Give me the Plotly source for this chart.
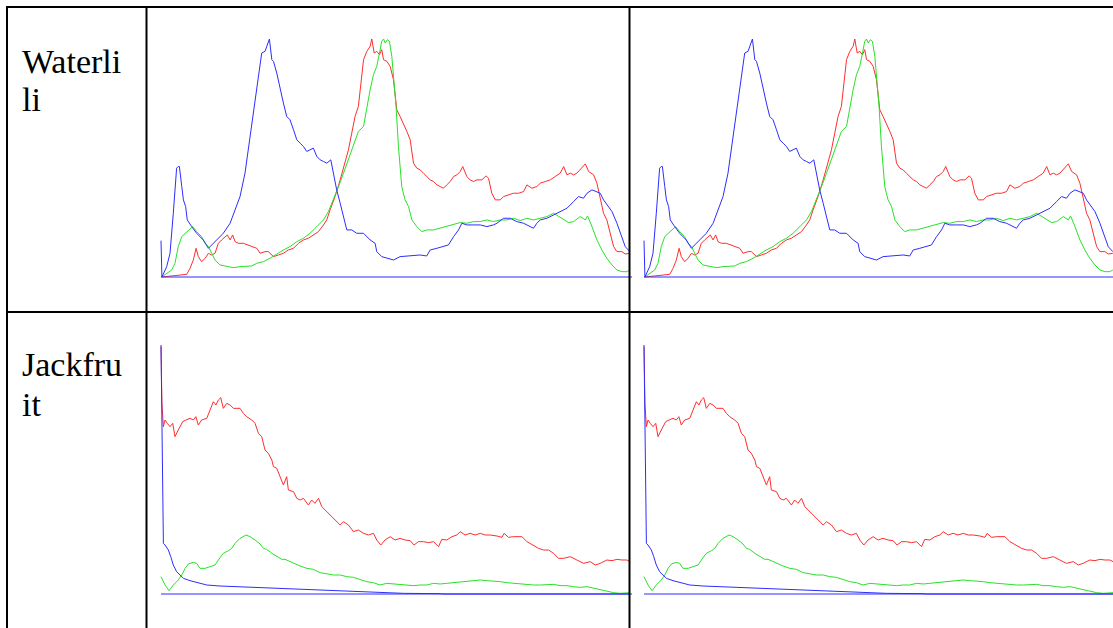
import plotly.graph_objects as go

W, H = 1113, 628

# ---------------- Data: colour histograms (intensity bin, relative count) ----------------
row_labels = [["Waterli", "li"], ["Jackfru", "it"]]

# Waterlily
wl_blue_bin = [0.0, 0.5, 3.1, 4.9, 6.7, 7.6, 8.5, 9.4, 10.0, 11.3, 12.2, 13.4, 14.3, 16.7, 19.4, 23.0, 25.8, 27.6,
               30.3, 33.9, 37.6, 40.3, 43.0, 45.7, 47.5, 49.4, 51.2, 53.0, 54.8, 56.6, 57.9, 59.0, 60.3, 61.2, 63.0,
               64.8, 66.6, 68.4, 70.2, 72.1, 73.9, 75.7, 77.5, 79.3, 81.1, 82.9, 84.8, 86.6, 88.4, 90.2, 92.4, 93.8,
               95.6, 97.5, 99.3, 101.1, 103.8, 106.5, 110.2, 113.8, 116.5, 117.4, 120.1, 122.9, 126.5, 130.1, 133.8,
               137.4, 141.0, 144.6, 146.5, 150.1, 153.7, 156.4, 159.2, 161.9, 163.7, 166.4, 170.1, 173.7, 177.3,
               180.9, 182.8, 186.4, 190.0, 193.6, 197.3, 200.9, 202.7, 204.5, 206.4, 210.0, 213.6, 217.2, 220.9,
               224.5, 227.2, 229.9, 231.8, 234.5, 237.2, 239.0, 240.8, 242.6, 245.4, 248.1, 249.9, 252.6, 255.1]
wl_blue_val = [109, 0, 31, 71, 191, 271, 326, 331, 331, 271, 231, 211, 171, 151, 131, 111, 86, 96,
               111, 131, 161, 201, 241, 311, 381, 471, 531, 601, 671, 676, 696, 713, 651, 646, 611,
               561, 521, 481, 471, 441, 411, 401, 391, 376, 381, 386, 361, 351, 346, 341, 351, 311,
               261, 221, 181, 141, 141, 131, 131, 111, 101, 76, 61, 56, 51, 61, 63,
               66, 66, 63, 81, 86, 91, 96, 121, 141, 161, 156, 156, 156, 151,
               156, 161, 176, 176, 166, 161, 151, 146, 161, 171, 176, 186, 196, 206,
               226, 241, 236, 251, 261, 256, 251, 231, 216, 196, 161, 131, 91, 76]

wl_red_bin = [0.4, 4.9, 10.3, 14.0, 15.8, 17.6, 19.1, 20.3, 22.1, 24.0, 25.8, 27.6, 29.4, 31.2, 33.0, 34.8, 36.1,
              37.6, 39.0, 40.3, 42.1, 44.8, 47.5, 49.4, 52.1, 53.9, 56.6, 58.4, 61.2, 63.9, 66.6, 69.3, 72.1, 74.8,
              77.5, 80.2, 82.9, 85.7, 88.4, 90.2, 92.0, 94.7, 97.5, 100.2, 102.0, 103.8, 105.6, 107.4, 108.7, 110.2,
              112.0, 113.8, 114.7, 116.0, 117.4, 118.9, 120.1, 121.1, 122.9, 124.7, 126.5, 128.3, 130.1, 131.9,
              133.8, 135.6, 137.4, 139.2, 141.0, 142.8, 144.6, 146.5, 148.3, 150.1, 151.9, 153.7, 155.5, 157.4,
              159.2, 161.0, 162.8, 164.2, 166.4, 168.2, 170.1, 171.9, 174.6, 176.9, 178.2, 180.0, 181.9, 184.6,
              186.4, 189.1, 191.8, 194.6, 197.3, 199.1, 201.8, 204.5, 206.4, 209.1, 211.8, 214.5, 217.2, 219.1,
              220.9, 222.7, 224.5, 226.3, 228.1, 230.9, 232.7, 235.4, 237.2, 239.0, 240.8, 242.6, 244.5, 246.3,
              248.1, 250.8, 252.6, 255.1]
wl_red_val = [0, 3, 6, 8, 26, 51, 86, 61, 46, 56, 71, 66, 71, 101, 111, 121, 126,
              111, 126, 106, 101, 101, 96, 91, 86, 71, 76, 76, 61, 66, 71, 81, 86, 101,
              111, 116, 126, 136, 156, 171, 201, 241, 291, 341, 381, 431, 481, 511, 571, 651,
              676, 691, 713, 671, 676, 666, 681, 651, 646, 631, 591, 501, 481, 461,
              436, 411, 341, 326, 321, 311, 301, 291, 286, 276, 271, 266, 276, 286,
              301, 306, 316, 331, 301, 291, 286, 291, 291, 303, 296, 251, 231, 231,
              241, 246, 251, 251, 256, 276, 266, 271, 281, 286, 291, 301, 311, 331,
              306, 311, 306, 311, 321, 339, 316, 306, 281, 231, 191, 171, 131, 91,
              76, 76, 69, 71]

wl_green_bin = [0.4, 3.1, 5.8, 7.6, 9.4, 11.3, 13.1, 15.8, 17.2, 19.4, 22.1, 24.0, 25.8, 27.6, 29.4, 32.1, 35.8,
                39.4, 43.0, 46.6, 49.4, 52.1, 55.7, 59.3, 63.0, 66.6, 70.2, 73.9, 77.5, 81.1, 84.8, 88.4, 91.1,
                93.8, 96.6, 99.3, 102.0, 104.7, 107.4, 110.2, 112.0, 113.8, 115.6, 117.4, 118.9, 120.1, 121.1,
                122.0, 123.2, 124.3, 125.6, 126.5, 127.9, 129.2, 131.0, 132.8, 134.7, 136.5, 139.2, 141.9, 144.6,
                148.3, 151.9, 155.5, 159.2, 162.8, 166.4, 170.1, 173.7, 177.3, 180.9, 184.6, 188.2, 191.8, 195.5,
                199.1, 202.7, 206.4, 210.0, 213.6, 216.3, 219.1, 221.8, 224.5, 228.1, 230.9, 232.1, 234.5, 237.2,
                239.9, 242.6, 245.4, 248.1, 250.8, 253.5, 255.1]
wl_green_val = [0, 11, 21, 41, 91, 121, 131, 146, 151, 136, 121, 101, 91, 71, 51, 36, 31,
                28, 31, 31, 33, 41, 46, 56, 69, 81, 91, 106, 116, 131, 151, 171, 196,
                231, 271, 311, 351, 391, 436, 451, 511, 561, 606, 631, 671, 706, 713,
                701, 711, 706, 661, 601, 511, 391, 271, 231, 211, 171, 151, 136, 141,
                141, 146, 151, 156, 163, 161, 166, 166, 171, 166, 171, 171, 176, 169,
                176, 171, 176, 181, 191, 181, 171, 163, 166, 181, 171, 183, 151, 111,
                81, 56, 36, 21, 16, 16, 21]

# Jackfruit
jf_blue_bin = [0.0, 0.5, 0.9, 1.3, 2.2, 4.0, 5.3, 6.7, 8.5, 10.3, 12.2, 15.8, 19.4, 24.9, 32.1, 41.2, 50.3, 61.2,
               68.4, 82.9, 90.2, 101.1, 110.2, 119.2, 131.9, 151.9, 153.7, 255.2]
jf_blue_val = [747, 522, 322, 152, 147, 132, 112, 87, 67, 57, 47, 40, 34, 27, 24, 22, 20, 17,
               15, 14, 11, 10, 7, 5, 2, 1, 0, 0]

jf_red_bin = [0.0, 0.5, 1.3, 2.2, 3.4, 4.9, 6.4, 7.6, 9.4, 11.8, 13.6, 15.8, 17.6, 19.0, 20.3, 22.1, 24.9, 26.7,
              28.5, 29.9, 31.2, 32.5, 33.9, 35.8, 37.6, 39.4, 41.2, 43.0, 44.8, 46.6, 49.4, 51.2, 53.0, 54.8, 56.6,
              58.4, 60.3, 61.2, 63.0, 64.8, 66.6, 68.4, 69.3, 72.1, 73.9, 75.7, 77.5, 80.2, 82.0, 83.8, 85.7, 87.5,
              90.2, 92.9, 95.6, 97.5, 99.3, 102.0, 104.7, 107.4, 110.2, 112.9, 115.6, 117.4, 119.6, 121.9, 124.7,
              127.4, 130.1, 132.8, 135.6, 137.7, 140.1, 142.8, 145.6, 148.3, 151.0, 152.8, 155.5, 158.3, 161.0,
              162.8, 165.5, 168.2, 170.9, 173.7, 176.4, 179.1, 182.8, 185.5, 186.7, 189.1, 191.8, 194.6, 196.4,
              199.1, 202.7, 205.4, 208.2, 210.9, 213.6, 216.3, 219.1, 222.7, 226.3, 229.9, 233.6, 236.3, 239.0,
              242.6, 245.4, 248.1, 250.8, 253.5, 255.2]
jf_red_val = [742, 572, 502, 522, 512, 502, 512, 472, 492, 517, 522, 527, 522, 532, 507, 522, 527, 552,
              577, 567, 582, 589, 557, 572, 567, 557, 557, 557, 542, 532, 522, 512, 482, 472, 432,
              422, 402, 382, 377, 352, 327, 352, 312, 307, 287, 282, 287, 267, 282, 272, 287, 262,
              247, 232, 217, 207, 217, 207, 187, 192, 182, 177, 182, 162, 147, 162, 172,
              162, 167, 162, 160, 147, 157, 157, 154, 157, 142, 164, 162, 172, 177,
              187, 177, 182, 177, 182, 177, 177, 174, 170, 182, 170, 172, 172, 172,
              157, 147, 137, 132, 132, 122, 107, 107, 112, 102, 92, 97, 87, 92,
              102, 100, 104, 102, 102, 97]

jf_green_bin = [0.0, 2.2, 4.4, 6.7, 9.4, 11.3, 13.1, 14.9, 17.6, 19.4, 21.2, 24.0, 26.7, 29.4, 31.2, 33.9, 36.7,
                38.5, 40.3, 43.0, 46.3, 48.5, 51.2, 53.9, 55.7, 57.5, 60.3, 63.0, 65.7, 67.5, 70.2, 73.0, 75.7,
                79.3, 82.9, 86.6, 90.2, 93.8, 97.5, 101.1, 104.7, 108.3, 112.0, 115.6, 119.2, 122.9, 126.5, 130.1,
                133.8, 137.4, 141.0, 144.6, 148.3, 151.9, 155.5, 159.2, 162.8, 166.4, 170.1, 173.7, 177.3, 180.9,
                184.6, 188.2, 191.8, 195.5, 199.1, 202.7, 206.4, 210.0, 213.6, 217.2, 220.9, 224.5, 228.1, 231.8,
                235.4, 239.0, 242.6, 246.3, 249.9, 253.5, 255.2]
jf_green_val = [52, 27, 10, 27, 42, 57, 77, 90, 95, 92, 77, 77, 82, 87, 102, 122, 130,
                137, 152, 167, 177, 172, 162, 150, 137, 134, 122, 112, 104, 104, 97, 92, 84,
                77, 74, 64, 60, 57, 57, 52, 50, 44, 37, 34, 27, 32, 30, 29,
                27, 25, 27, 27, 32, 30, 32, 34, 37, 40, 40, 42, 40, 39,
                37, 34, 32, 32, 30, 27, 27, 29, 29, 25, 25, 22, 20, 22,
                17, 12, 9, 4, 2, 2, 4]

RED = "rgb(255,45,45)"
GREEN = "rgb(40,225,40)"
BLUE = "rgb(45,45,255)"

rows = [
    dict(r=(wl_red_bin, wl_red_val), g=(wl_green_bin, wl_green_val), b=(wl_blue_bin, wl_blue_val),
         ymax=713, base_px=277),
    dict(r=(jf_red_bin, jf_red_val), g=(jf_green_bin, jf_green_val), b=(jf_blue_bin, jf_blue_val),
         ymax=747, base_px=594),
]

fig = go.Figure()
layout_axes = {}
shapes = []
PX_PER_BIN = 469 / 255.2
pad = 4  # extra pixels so peaks are not clipped

col_left = [161, 644]
ax_i = 0
for ri, row in enumerate(rows):
    top_px = 39 if ri == 0 else 345
    base_px = row["base_px"]
    ppu = (base_px - top_px) / row["ymax"]
    y0_px, y1_px = base_px + pad, top_px - pad
    yr = [-pad / ppu, row["ymax"] + pad / ppu]
    for ci, lx in enumerate(col_left):
        ax_i += 1
        sfx = "" if ax_i == 1 else str(ax_i)
        x0_px = lx - pad
        x1_px = min(lx + 469 + 2, W)
        xr = [-pad / PX_PER_BIN, (x1_px - lx) / PX_PER_BIN]
        layout_axes["xaxis" + sfx] = dict(domain=[x0_px / W, x1_px / W], range=xr, visible=False,
                                          anchor="y" + sfx, fixedrange=True)
        layout_axes["yaxis" + sfx] = dict(domain=[1 - y0_px / H, 1 - y1_px / H], range=yr, visible=False,
                                          anchor="x" + sfx, fixedrange=True)
        for key, col in (("r", RED), ("g", GREEN), ("b", BLUE)):
            xs, ys = row[key]
            fig.add_trace(go.Scatter(x=xs, y=ys, mode="lines", line=dict(color=col, width=1),
                                     xaxis="x" + sfx, yaxis="y" + sfx, hoverinfo="skip", showlegend=False))
        # baseline axis (blue)
        shapes.append(dict(type="line", xref="x" + sfx, yref="y" + sfx, x0=0, x1=xr[1], y0=0, y1=0,
                           line=dict(color=BLUE, width=1)))

# table borders
BK = dict(color="black", width=2)
def vline(x, y0, y1):
    shapes.append(dict(type="line", xref="paper", yref="paper", x0=x / W, x1=x / W,
                       y0=1 - y0 / H, y1=1 - y1 / H, line=BK))
def hline(y, x0, x1):
    shapes.append(dict(type="line", xref="paper", yref="paper", x0=x0 / W, x1=x1 / W,
                       y0=1 - y / H, y1=1 - y / H, line=BK))

vline(7, 6, H)
vline(146.5, 6, H)
vline(629.5, 6, H)
hline(7, 6, W)
hline(312, 6, W)

annotations = []
label_y = [[61, 99], [364, 404]]
for ri, lines in enumerate(row_labels):
    for li, t in enumerate(lines):
        annotations.append(dict(text=t, x=20 / W, y=1 - label_y[ri][li] / H, xref="paper", yref="paper",
                                xanchor="left", yanchor="middle", showarrow=False,
                                font=dict(family="'Times New Roman', 'Liberation Serif', 'DejaVu Serif', serif",
                                          size=34, color="black")))

fig.update_layout(width=W, height=H, margin=dict(l=0, r=0, t=0, b=0),
                  paper_bgcolor="white", plot_bgcolor="rgba(0,0,0,0)",
                  shapes=shapes, annotations=annotations, **layout_axes)

fig.write_html("out.html", config={"displayModeBar": False},
               post_script="document.body.style.margin='0';document.body.style.overflow='hidden';")
